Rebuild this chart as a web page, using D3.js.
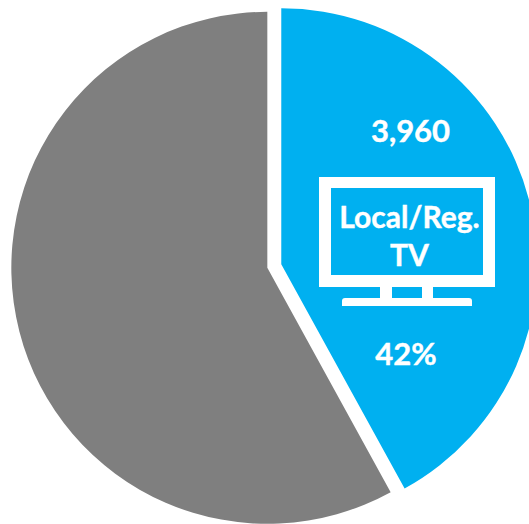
<!DOCTYPE html>
<meta charset="utf-8">
<style>
html, body { margin: 0; background: #fff; overflow: hidden; }
text { fill: #fff; stroke: #fff; stroke-width: 0.4px; font-family: Lato, "Noto Sans", sans-serif; font-weight: 700; text-anchor: middle; }
</style>
<body>
<script src="https://cdn.jsdelivr.net/npm/d3@7"></script>
<script>
// slices, clockwise from 12 o'clock
var categories = ["Local/Reg. TV", "Other"];
var shares = [42, 58];
var colors = ["#00b0f0", "#7f7f7f"];
var countLabel = "3,960";
var shareLabel = "42%";
var iconLines = ["Local/Reg.", "TV"];

var width = 529, height = 524;
var cx = 274.3, cy = 266, radius = 256, explode = 7.2;

var svg = d3.select("body").append("svg")
    .attr("width", width)
    .attr("height", height);

var pie = d3.pie().sort(null);
var arc = d3.arc().innerRadius(0).outerRadius(radius);

// each slice is pulled out along its own bisector
svg.selectAll("path.slice")
    .data(pie(shares))
  .enter().append("path")
    .attr("class", "slice")
    .attr("fill", function(d, i) { return colors[i]; })
    .attr("d", arc)
    .attr("transform", function(d) {
      var mid = (d.startAngle + d.endAngle) / 2;
      return "translate(" + (cx + explode * Math.sin(mid)) + "," + (cy - explode * Math.cos(mid)) + ")";
    });

// tv icon
var tv = svg.append("g").attr("fill", "#fff");
tv.append("path")
    .attr("fill-rule", "evenodd")
    .attr("d", "M319,177H495V287H319Z M331,188V275H483V188Z");
tv.append("rect").attr("x", 380).attr("y", 287).attr("width", 12).attr("height", 12);
tv.append("rect").attr("x", 422).attr("y", 287).attr("width", 11).attr("height", 12);
tv.append("path").attr("d", "M342,306V301Q342,298 345,298H469Q472,298 472,301V306Z");

svg.append("text").attr("x", 410.5).attr("y", 142).style("font-size", "31px").text(countLabel);
svg.append("text").attr("x", 406).attr("y", 365).style("font-size", "31px").text(shareLabel);
svg.selectAll("text.name")
    .data(iconLines)
  .enter().append("text")
    .attr("class", "name")
    .attr("x", 409.5)
    .attr("y", function(d, i) { return 228 + i * 38; })
    .style("font-size", "30px")
    .text(function(d) { return d; });
</script>
</body>
